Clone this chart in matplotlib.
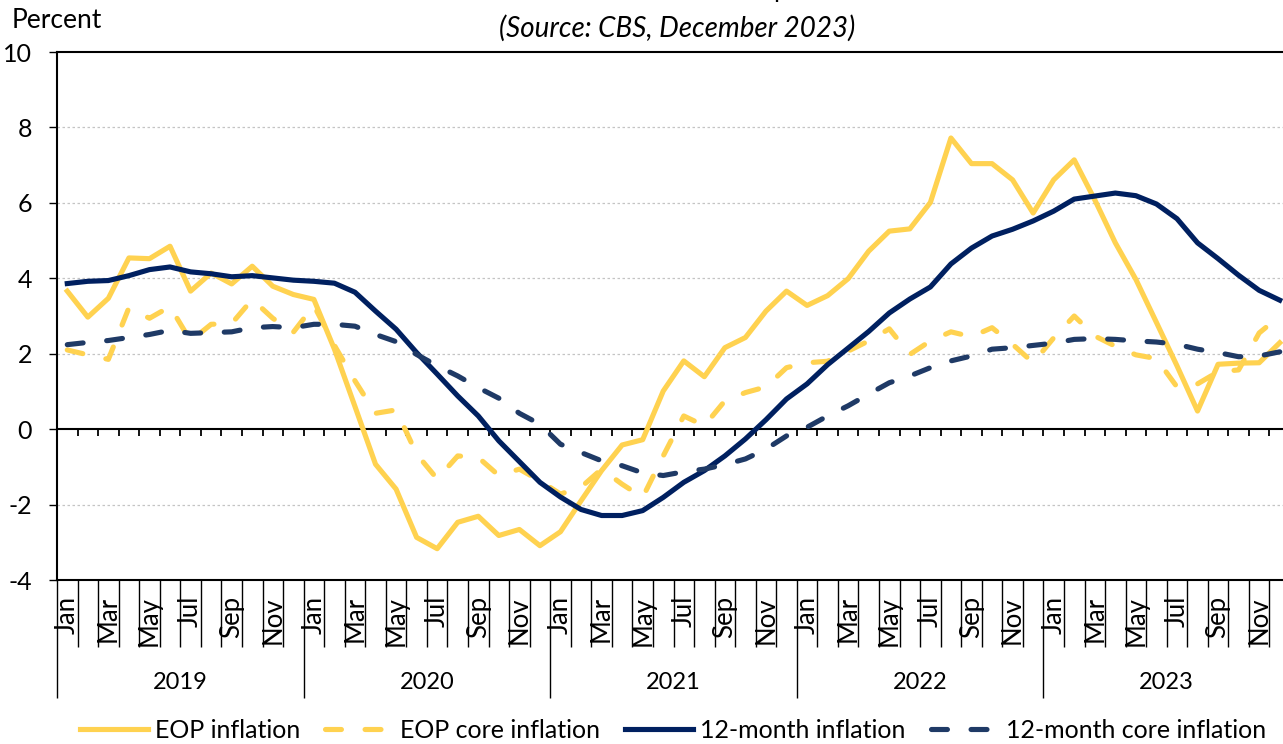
import numpy as np
import matplotlib.pyplot as plt
from matplotlib.transforms import blended_transform_factory

plt.rcParams['font.family'] = ['Lato', 'DejaVu Sans']
plt.rcParams['axes.unicode_minus'] = False

months = ['Jan', 'Feb', 'Mar', 'Apr', 'May', 'Jun',
          'Jul', 'Aug', 'Sep', 'Oct', 'Nov', 'Dec']
years = ['2019', '2020', '2021', '2022', '2023']

# monthly values, Jan 2019 - Dec 2023 (percent)
eop = [3.66, 2.97, 3.47, 4.54, 4.52, 4.85, 3.66, 4.14, 3.85, 4.32, 3.79, 3.57,
       3.44, 2.12, 0.60, -0.93, -1.59, -2.87, -3.17, -2.47, -2.31, -2.82, -2.66, -3.09,
       -2.72, -1.90, -1.10, -0.42, -0.28, 1.01, 1.81, 1.39, 2.16, 2.43, 3.13, 3.66,
       3.28, 3.54, 3.99, 4.72, 5.25, 5.31, 6.01, 7.72, 7.04, 7.04, 6.61, 5.73,
       6.61, 7.14, 6.08, 4.94, 3.97, 2.83, 1.68, 0.48, 1.72, 1.75, 1.76, 2.29]

eop_core = [2.10, 1.97, 1.85, 3.22, 2.94, 3.25, 2.34, 2.78, 2.80, 3.44, 2.94, 2.57,
            3.28, 2.22, 1.28, 0.42, 0.51, -0.66, -1.32, -0.71, -0.75, -1.23, -1.06, -1.37,
            -1.72, -1.54, -1.06, -1.46, -1.81, -0.71, 0.35, 0.09, 0.75, 0.97, 1.12, 1.63,
            1.76, 1.80, 2.07, 2.34, 2.66, 1.98, 2.34, 2.58, 2.45, 2.69, 2.25, 1.76,
            2.42, 3.00, 2.47, 2.20, 1.97, 1.87, 1.12, 1.20, 1.52, 1.57, 2.55, 3.00]

m12 = [3.86, 3.92, 3.94, 4.07, 4.23, 4.30, 4.17, 4.12, 4.04, 4.07, 4.01, 3.95,
       3.92, 3.87, 3.63, 3.13, 2.65, 2.03, 1.46, 0.88, 0.35, -0.31, -0.86, -1.41,
       -1.80, -2.13, -2.29, -2.29, -2.16, -1.81, -1.41, -1.10, -0.71, -0.26, 0.25, 0.80,
       1.20, 1.71, 2.15, 2.59, 3.08, 3.45, 3.77, 4.38, 4.80, 5.12, 5.30, 5.52,
       5.78, 6.10, 6.18, 6.26, 6.19, 5.97, 5.58, 4.94, 4.52, 4.08, 3.68, 3.42]

m12_core = [2.24, 2.30, 2.35, 2.43, 2.51, 2.62, 2.54, 2.56, 2.58, 2.69, 2.72, 2.69,
            2.78, 2.78, 2.73, 2.51, 2.32, 1.98, 1.68, 1.41, 1.10, 0.82, 0.42, 0.13,
            -0.40, -0.62, -0.84, -0.97, -1.16, -1.23, -1.13, -1.06, -0.94, -0.79, -0.53, -0.18,
            0.05, 0.35, 0.62, 0.93, 1.23, 1.41, 1.63, 1.81, 1.94, 2.12, 2.16, 2.22,
            2.28, 2.38, 2.40, 2.38, 2.34, 2.31, 2.25, 2.12, 2.03, 1.92, 1.94, 2.05]

yellow = '#FFD250'
navy = '#002060'
navy2 = '#1F3A66'

x = np.arange(len(eop))

fig = plt.figure(figsize=(12.83, 7.44), dpi=100)
ax = fig.add_axes([57 / 1283, 164 / 744, 1233 / 1283, 528 / 744])

dash = (0, (3.1, 4.6))
ax.plot(x, eop, color=yellow, lw=3.7, solid_joinstyle='round', label='EOP inflation')
ax.plot(x, eop_core, color=yellow, lw=3.7, ls=dash, dash_capstyle='round',
        dash_joinstyle='round', label='EOP core inflation')
ax.plot(x, m12, color=navy, lw=3.7, solid_joinstyle='round', label='12-month inflation')
ax.plot(x, m12_core, color=navy2, lw=3.7, ls=dash, dash_capstyle='round',
        dash_joinstyle='round', label='12-month core inflation')

ax.set_xlim(-0.5, 59.5)
ax.set_ylim(-4, 10)

# gridlines
for g in [-2, 2, 4, 6, 8]:
    ax.axhline(g, color='#C4C4C4', lw=0.9, ls=(0, (2, 2)), zorder=0)

# zero line with month ticks
ax.axhline(0, color='black', lw=1.5, zorder=1)
bounds = np.arange(0.5, 59.5, 1)
ax.vlines(bounds, -0.19, 0, color='black', lw=1.3, zorder=1)

for s in ['left', 'top', 'bottom']:
    ax.spines[s].set_color('black')
    ax.spines[s].set_linewidth(1.5)
ax.spines['right'].set_visible(False)

ax.set_yticks(range(-4, 11, 2))
ax.tick_params(axis='y', length=6, width=1, direction='out', pad=12, labelsize=18)

ax.set_xticks([-0.5, 11.5, 23.5, 35.5, 47.5, 59.5])
ax.set_xticks([b for b in bounds if (b + 0.5) % 12 != 0], minor=True)
ax.tick_params(axis='x', which='major', length=85, width=1, direction='out',
               labelbottom=False)
ax.tick_params(axis='x', which='minor', length=48, width=1, direction='out',
               labelbottom=False)

trans = blended_transform_factory(ax.transData, fig.transFigure)
for i in range(0, 60, 2):
    ax.text(i, 1 - 596 / 744, months[i % 12], rotation=90, ha='center', va='top',
            fontsize=18.5, transform=trans)
for k, yr in enumerate(years):
    ax.text(12 * k + 5.5, 0.082, yr, ha='center', va='center', fontsize=17,
            transform=trans)

fig.text(12 / 1283, 1 - 20 / 744, 'Percent', ha='left', va='center', fontsize=19)
fig.text(670 / 1283, 1 + 2 / 744,
         'Chart 2: Headline and core inflation as end of period and 12-month rates',
         ha='center', va='baseline', fontsize=18)
fig.text(677 / 1283, 1 - 28 / 744, '(Source: CBS, December 2023)', style='italic',
         ha='center', va='center', fontsize=20)

fig.legend(loc='center', bbox_to_anchor=(673 / 1283, 1 - 730 / 744), ncol=4,
           frameon=False, fontsize=18, handlelength=2.7, columnspacing=1.0,
           handletextpad=0.3, borderpad=0)

fig.savefig('out.png', dpi=100)
